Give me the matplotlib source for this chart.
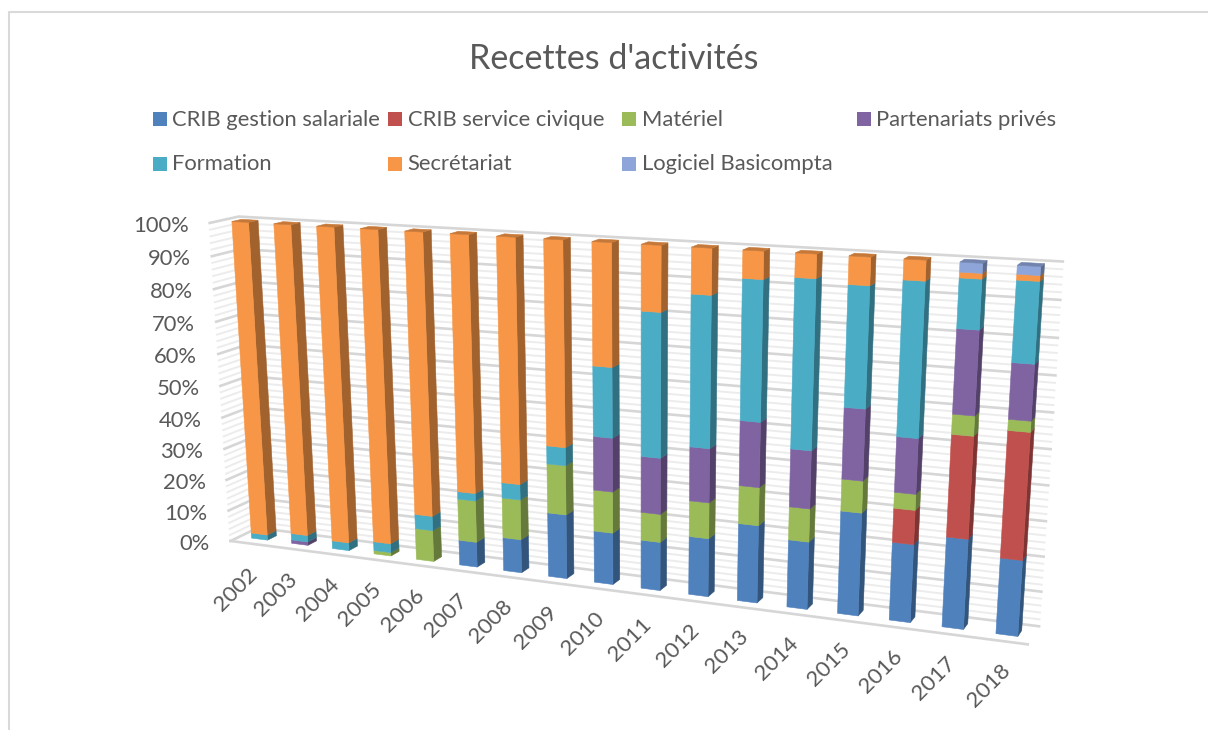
import matplotlib
matplotlib.use('Agg')
import matplotlib.pyplot as plt
from matplotlib.patches import Polygon, Rectangle
import numpy as np

plt.rcParams['font.family'] = ['Lato', 'DejaVu Sans']

annees = list(range(2002, 2019))
series = ['CRIB gestion salariale', 'CRIB service civique', 'Matériel', 'Partenariats privés',
          'Formation', 'Secrétariat', 'Logiciel Basicompta']
couleurs = ['#4F81BD', '#C0504D', '#9BBB59', '#8064A2', '#4BACC6', '#F79646', '#8EA5D9']

gestion =      [0, 0, 0, 0, 0, 7.8, 10.3, 19.6, 15.7, 14.6, 17.4, 22.9, 19.8, 29.8, 22.5, 25.7, 21.5]
civique =      [0, 0, 0, 0, 0, 0, 0, 0, 0, 0, 0, 0, 0, 0, 9.7, 28.5, 35.1]
materiel =     [0, 0, 0, 1.1, 9.8, 12.9, 12.3, 14.9, 12.4, 8.4, 10.6, 11.1, 9.6, 9.1, 4.5, 5.5, 3.0]
partenariats = [0, 1.1, 0, 0, 0, 0, 0, 0, 16.0, 16.6, 15.8, 18.7, 16.6, 20.1, 15.5, 22.9, 15.1]
formation =    [1.7, 2.1, 2.5, 2.8, 4.5, 2.3, 4.7, 5.4, 20.6, 41.8, 43.3, 39.6, 47.4, 33.4, 42.3, 13.3, 21.5]
secretariat =  [98.3, 96.8, 97.5, 96.1, 85.7, 77.0, 72.7, 60.1, 35.3, 18.6, 12.9, 7.7, 6.6, 7.6, 5.5, 1.5, 1.5]
logiciel =     [0, 0, 0, 0, 0, 0, 0, 0, 0, 0, 0, 0, 0, 0, 0, 2.6, 2.3]
valeurs = [gestion, civique, materiel, partenariats, formation, secretariat, logiciel]

largeur = 0.4      # bar width, one category = 1
u_min, u_max = -0.3, 16.65
d_avant, d_fond = -1.0, 2.0   # floor front edge and back wall, bar depth = 1

# camera calibration: (u, pct, depth) -> pixel
calage = [
    (0, 100, 0, 232, 221.5), (0.4, 100, 0, 248, 222.5), (0, 0, 0, 252, 536), (0.4, 0, 0, 267, 541),
    (0.4, 100, 1, 258, 220), (0.4, 0, 1, 277, 535.5),
    (8, 100, 0, 592, 242), (8.4, 100, 0, 612, 243), (8.4, 100, 1, 619, 240),
    (8, 0, 0, 594, 583), (8.4, 0, 0, 613, 585), (8.4, 0, 1, 619, 581),
    (16, 100, 0, 1017, 265), (16.4, 100, 0, 1041, 267), (16.4, 100, 1, 1044, 263),
    (16, 0, 0, 996, 633), (16.4, 0, 0, 1018, 636), (16.4, 0, 1, 1022, 630),
]


def calcule_camera(points):
    A, b = [], []
    for u, v, d, x, y in points:
        A.append([u, v, d, 1, 0, 0, 0, 0, -x * u, -x * v, -x * d])
        b.append(x)
        A.append([0, 0, 0, 0, u, v, d, 1, -y * u, -y * v, -y * d])
        b.append(y)
    p = np.linalg.lstsq(np.array(A, dtype=float), np.array(b, dtype=float), rcond=None)[0]
    return np.append(p, 1.0).reshape(3, 4)


camera = calcule_camera(calage)


def projette(u, v, d):
    h = camera @ np.array([u, v, d, 1.0])
    return h[0] / h[2], h[1] / h[2]


def assombrit(couleur, facteur):
    r, g, b = matplotlib.colors.to_rgb(couleur)
    return (r * facteur, g * facteur, b * facteur)


def face(ax, coins, couleur, z):
    ax.add_patch(Polygon([projette(*c) for c in coins], closed=True, facecolor=couleur,
                         edgecolor=couleur, linewidth=0.4, zorder=z))


figure = plt.figure(figsize=(12.08, 7.3), dpi=100)
ax = figure.add_axes([0, 0, 1, 1])
ax.set_xlim(0, 1208)
ax.set_ylim(730, 0)
ax.axis('off')

# chart frame
ax.plot([9, 9, 1208], [730, 12, 12], color='#d9d9d9', linewidth=1.5, zorder=1)

# wall gridlines, minor first
for pct in range(0, 101, 2):
    majeur = pct % 10 == 0
    couleur = '#d6d6d6' if majeur else '#ececec'
    epaisseur = 1.9 if majeur else 1.4
    z = 3 if majeur else 2
    x1, y1 = projette(u_min, pct, d_avant)
    x2, y2 = projette(u_min, pct, d_fond)
    x3, y3 = projette(u_max, pct, d_fond)
    ax.plot([x1, x2, x3], [y1, y2, y3], color=couleur, linewidth=epaisseur, zorder=z,
            solid_joinstyle='miter')

# floor edges
x1, y1 = projette(u_min, 0, d_avant)
x2, y2 = projette(u_max, 0, d_avant)
ax.plot([x1, x2], [y1, y2], color='#d6d6d6', linewidth=1.9, zorder=3)

# stacked bars
for i in range(len(annees)):
    base = 0.0
    for s in range(len(series)):
        h = valeurs[s][i]
        if h == 0:
            continue
        haut = base + h
        g, r = i, i + largeur
        c = couleurs[s]
        z = 10 + i + s * 0.01
        face(ax, [(r, base, 0), (r, base, 1), (r, haut, 1), (r, haut, 0)], assombrit(c, 0.65), z)
        face(ax, [(g, base, 0), (r, base, 0), (r, haut, 0), (g, haut, 0)], c, z + 0.001)
        base = haut
    face(ax, [(g, base, 0), (r, base, 0), (r, base, 1), (g, base, 1)], assombrit(c, 0.8), z + 0.002)

# value axis labels
for pct in range(0, 101, 10):
    x, y = projette(u_min, pct, d_avant)
    ax.text(x - 21, y + 3, '%d%%' % pct, ha='right', va='center', fontsize=15.8, color='#595959')

# year labels
for i, annee in enumerate(annees):
    x, y = projette(i + largeur / 2, 0, 0)
    decalage = -24 + i * 6 / 16
    ax.text(x + decalage, y + 50, str(annee), rotation=45, rotation_mode='anchor', ha='center', va='center',
            fontsize=16, color='#595959')

ax.text(614, 59, "Recettes d'activités", ha='center', va='center', fontsize=24.5, color='#595959')

# legend, Excel style equal columns
colonnes = [153, 388, 622, 857]
lignes = [119, 164]
for s, nom in enumerate(series):
    x = colonnes[s % 4]
    y = lignes[s // 4]
    ax.add_patch(Rectangle((x, y - 7), 14, 14, facecolor=couleurs[s], edgecolor='none'))
    ax.text(x + 19.5, y + 0.5, nom, ha='left', va='center', fontsize=15.8, color='#595959')

figure.savefig('out.png', dpi=100)
